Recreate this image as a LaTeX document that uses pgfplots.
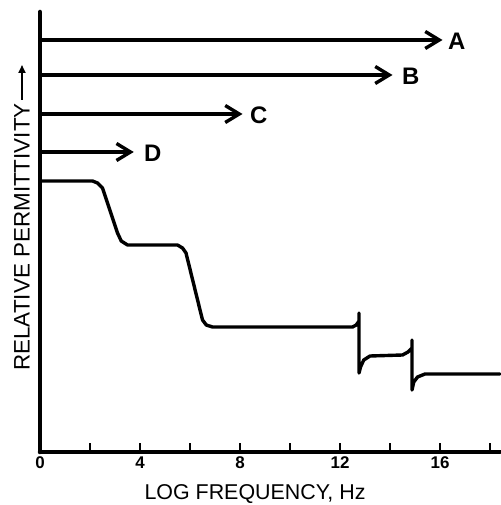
\documentclass[border=0pt]{standalone}
\usepackage{fontspec}
\setmainfont{Liberation Sans}
\usepackage{pgfplots}
\pgfplotsset{compat=1.18}
\usetikzlibrary{arrows.meta}
\begin{document}
\begin{tikzpicture}[x=1bp,y=1bp]
\useasboundingbox (-40,-53) rectangle (461,452);
\begin{axis}[
  at={(0,0)}, anchor=origin,
  scale only axis, width=460bp, height=440bp,
  xmin=0, xmax=18.4, ymin=0, ymax=440,
  axis lines*=left,
  axis line style={line width=4.5bp, line cap=round},
  xtick={0,2,4,6,8,10,12,14,16,18},
  xticklabels={0,,4,,8,,12,,16,},
  ytick=\empty,
  tick align=inside,
  major tick length=9bp,
  tick style={line width=2bp, black},
  /pgf/number format/assume math mode=true,
  tick label style={font=\bfseries\fontsize{17}{17}\selectfont},
  xticklabel style={yshift=-1bp},
  clip=false,
]
\addplot[line width=3.4bp, -{Straight Barb[length=14bp,width=17bp,line width=3.4bp]}] coordinates {(0,412) (16.1,412)};
\addplot[line width=3.4bp, -{Straight Barb[length=14bp,width=17bp,line width=3.4bp]}] coordinates {(0,377) (14.1,377)};
\addplot[line width=3.4bp, -{Straight Barb[length=14bp,width=17bp,line width=3.4bp]}] coordinates {(0,338) (8.1,338)};
\addplot[line width=3.4bp, -{Straight Barb[length=14bp,width=17bp,line width=3.4bp]}] coordinates {(0,300) (3.75,300)};
\addplot[line width=3.4bp, line join=round, line cap=round] coordinates {
 (0,271) (2.1,271) (2.3,269) (2.5,264) (3.1,219) (3.25,211) (3.5,207) (5.5,207)
 (5.7,204) (5.84,199) (6.5,132) (6.65,127) (6.9,125) (12.5,125) (12.65,127) (12.76,131)
 (12.76,139) (12.76,79) (12.82,85) (12.95,92) (13.2,96) (14.5,97) (14.72,100) (14.88,104)
 (14.88,112) (14.88,62) (14.95,70) (15.1,75) (15.4,78) (18.4,78)};
\node[font=\bfseries\fontsize{24}{24}\selectfont, anchor=west, inner sep=0pt] at (axis cs:16.32,411) {A};
\node[font=\bfseries\fontsize{24}{24}\selectfont, anchor=west, inner sep=0pt] at (axis cs:14.48,376) {B};
\node[font=\bfseries\fontsize{24}{24}\selectfont, anchor=west, inner sep=0pt] at (axis cs:8.4,337) {C};
\node[font=\bfseries\fontsize{24}{24}\selectfont, anchor=west, inner sep=0pt] at (axis cs:4.16,299) {D};
\end{axis}
\node[font=\fontsize{21.5}{21.5}\selectfont] at (215,-42) {LOG FREQUENCY, Hz};
\node[font=\fontsize{22.5}{22.5}\selectfont, rotate=90, inner sep=0pt] at (-18,215) {RELATIVE PERMITTIVITY};
\draw[line width=2.2bp, -{Triangle[length=8bp,width=7bp]}] (-18,352) -- (-18,387);
\end{tikzpicture}
\end{document}
